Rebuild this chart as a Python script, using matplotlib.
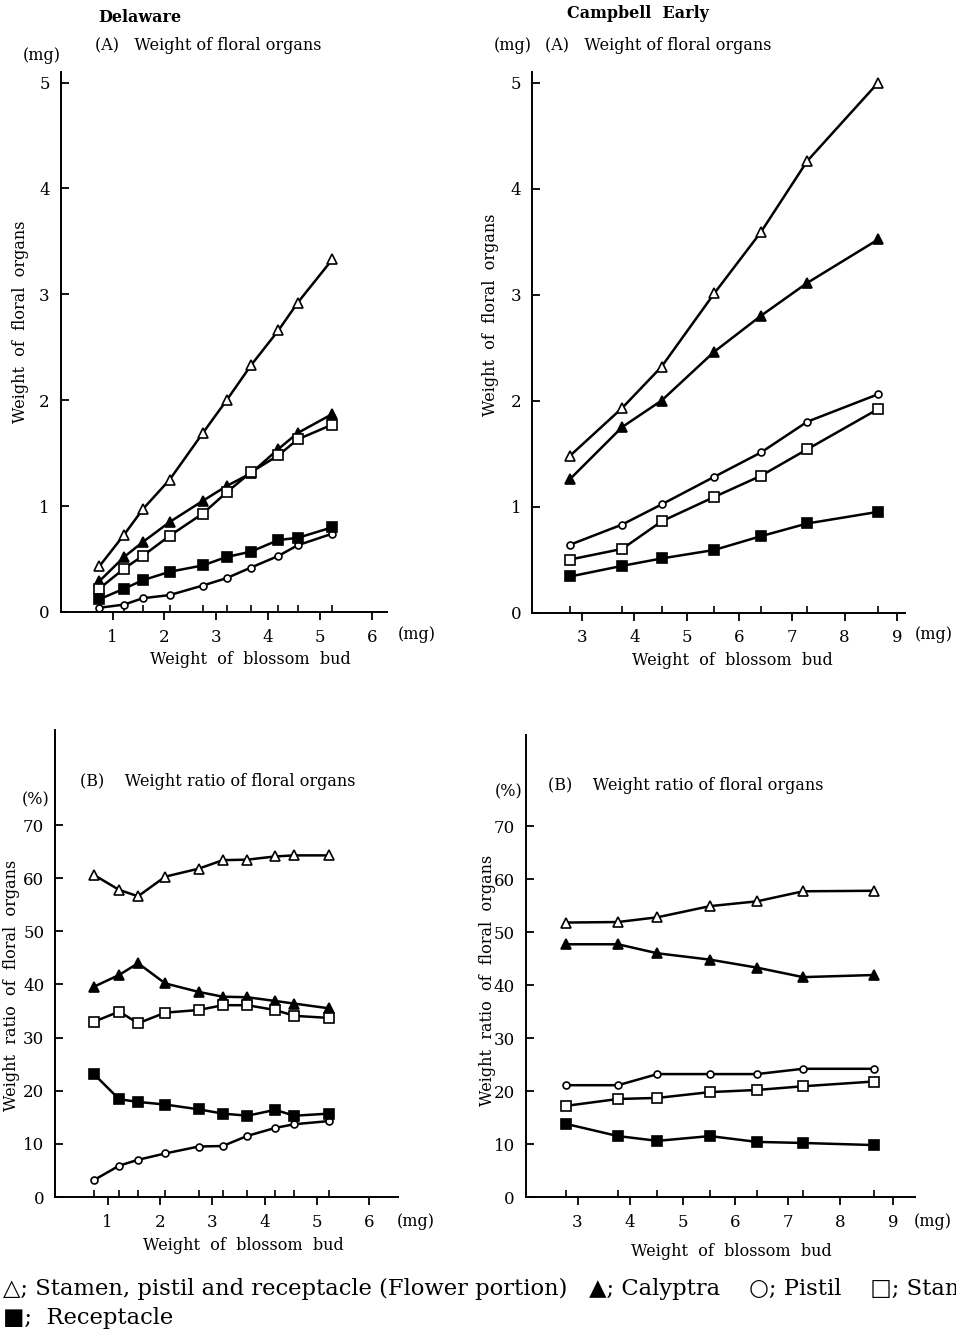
import matplotlib
matplotlib.use("Agg")
import matplotlib.pyplot as plt

# Delaware: weight of blossom bud (mg)
dela_bud = [0.74, 1.22, 1.58, 2.10, 2.74, 3.20, 3.67, 4.20, 4.57, 5.24]
# (A) weight of floral organs, mg
dela_flower_mg = [0.43, 0.73, 0.97, 1.25, 1.69, 2.00, 2.33, 2.66, 2.92, 3.33]
dela_calyptra_mg = [0.29, 0.52, 0.66, 0.85, 1.05, 1.19, 1.31, 1.54, 1.69, 1.87]
dela_stamen_mg = [0.22, 0.41, 0.53, 0.72, 0.93, 1.13, 1.32, 1.48, 1.63, 1.77]
dela_recep_mg = [0.12, 0.22, 0.30, 0.38, 0.44, 0.52, 0.57, 0.68, 0.70, 0.80]
dela_pistil_mg = [0.04, 0.07, 0.13, 0.16, 0.25, 0.32, 0.42, 0.53, 0.63, 0.74]
# (B) weight ratio, %
dela_flower_pct = [60.6, 57.8, 56.6, 60.3, 61.8, 63.4, 63.5, 64.1, 64.3, 64.3]
dela_calyptra_pct = [39.6, 41.8, 44.0, 40.2, 38.6, 37.7, 37.6, 36.9, 36.4, 35.5]
dela_stamen_pct = [33.0, 34.9, 32.7, 34.7, 35.2, 36.1, 36.1, 35.2, 34.1, 33.7]
dela_recep_pct = [23.1, 18.4, 17.9, 17.4, 16.5, 15.7, 15.3, 16.4, 15.3, 15.7]
dela_pistil_pct = [3.2, 5.9, 7.0, 8.2, 9.5, 9.6, 11.5, 13.0, 13.7, 14.3]

# Campbell Early
camp_bud = [2.78, 3.77, 4.52, 5.52, 6.41, 7.29, 8.64]
camp_flower_mg = [1.48, 1.93, 2.32, 3.01, 3.59, 4.26, 5.00]
camp_calyptra_mg = [1.26, 1.75, 2.00, 2.46, 2.80, 3.11, 3.52]
camp_pistil_mg = [0.64, 0.83, 1.02, 1.28, 1.51, 1.80, 2.06]
camp_stamen_mg = [0.50, 0.60, 0.86, 1.09, 1.29, 1.54, 1.92]
camp_recep_mg = [0.34, 0.44, 0.51, 0.59, 0.72, 0.84, 0.95]
camp_flower_pct = [51.8, 51.9, 52.8, 54.9, 55.8, 57.7, 57.8]
camp_calyptra_pct = [47.7, 47.7, 46.0, 44.8, 43.3, 41.5, 41.9]
camp_pistil_pct = [21.1, 21.1, 23.2, 23.2, 23.2, 24.2, 24.2]
camp_stamen_pct = [17.2, 18.5, 18.7, 19.8, 20.2, 20.9, 21.8]
camp_recep_pct = [13.8, 11.5, 10.6, 11.5, 10.4, 10.2, 9.8]

W, H = 956, 1333
plt.rcParams['font.family'] = ['DejaVu Serif', 'DejaVu Sans']

fig = plt.figure(figsize=(W / 100, H / 100), dpi=100)


def px(x, y):
    return x / W, 1 - y / H


def rect(left, right, top, bottom):
    return [left / W, 1 - bottom / H, (right - left) / W, (bottom - top) / H]


# marker styles: flower portion, calyptra, pistil, stamen, receptacle
styles = [
    dict(marker='^', mfc='white', ms=7.5),
    dict(marker='^', mfc='black', ms=7.5),
    dict(marker='o', mfc='white', ms=5),
    dict(marker='s', mfc='white', ms=6.5),
    dict(marker='s', mfc='black', ms=6.5),
]


def panel(r, bud, series, xlim, ylim, xticks, yticks):
    ax = fig.add_axes(r)
    for vals, st in zip(series, styles):
        ax.plot(bud, vals, color='black', lw=1.8, mec='black', mew=1.2, **st)
    ax.set_xlim(*xlim)
    ax.set_ylim(*ylim)
    ax.spines['top'].set_visible(False)
    ax.spines['right'].set_visible(False)
    ax.spines['left'].set_linewidth(1.4)
    ax.spines['bottom'].set_linewidth(1.4)
    ax.set_xticks(xticks)
    ax.set_yticks(yticks)
    ax.set_xticks(bud, minor=True)
    ax.tick_params(axis='x', which='major', direction='out', length=6, width=1.3, labelsize=12, pad=6)
    ax.tick_params(axis='x', which='minor', direction='in', length=5, width=1.2)
    ax.tick_params(axis='y', which='major', direction='in', length=6, width=1.3, labelsize=12, pad=8)
    return ax


panel(rect(60.9, 386.7, 72, 612), dela_bud,
      [dela_flower_mg, dela_calyptra_mg, dela_pistil_mg, dela_stamen_mg, dela_recep_mg],
      (0, 6.29), (0, 5.1), range(1, 7), range(0, 6))
panel(rect(532.3, 905, 72, 612.5), camp_bud,
      [camp_flower_mg, camp_calyptra_mg, camp_pistil_mg, camp_stamen_mg, camp_recep_mg],
      (2.06, 9.15), (0, 5.1), range(3, 10), range(0, 6))
panel(rect(55.4, 398, 730, 1197), dela_bud,
      [dela_flower_pct, dela_calyptra_pct, dela_pistil_pct, dela_stamen_pct, dela_recep_pct],
      (0, 6.55), (0, 87.9), range(1, 7), range(0, 80, 10))
panel(rect(526, 915, 735, 1197), camp_bud,
      [camp_flower_pct, camp_calyptra_pct, camp_pistil_pct, camp_stamen_pct, camp_recep_pct],
      (2.02, 9.42), (0, 87.2), range(3, 10), range(0, 80, 10))

fs = 11.5
# titles and units
fig.text(*px(98, 18), 'Delaware', fontsize=fs, fontweight='bold', va='center')
fig.text(*px(567, 13), 'Campbell  Early', fontsize=fs, fontweight='bold', va='center')
fig.text(*px(95, 46), '(A)   Weight of floral organs', fontsize=fs, va='center')
fig.text(*px(545, 46), '(A)   Weight of floral organs', fontsize=fs, va='center')
fig.text(*px(23, 56), '(mg)', fontsize=fs, va='center')
fig.text(*px(494, 46), '(mg)', fontsize=fs, va='center')
fig.text(*px(80, 782), '(B)    Weight ratio of floral organs', fontsize=fs, va='center')
fig.text(*px(548, 786), '(B)    Weight ratio of floral organs', fontsize=fs, va='center')
fig.text(*px(22, 800), '(%)', fontsize=fs, va='center')
fig.text(*px(495, 792), '(%)', fontsize=fs, va='center')

# axis labels
fig.text(*px(250, 660), 'Weight  of  blossom  bud', fontsize=fs, ha='center', va='center')
fig.text(*px(732, 661), 'Weight  of  blossom  bud', fontsize=fs, ha='center', va='center')
fig.text(*px(243, 1246), 'Weight  of  blossom  bud', fontsize=fs, ha='center', va='center')
fig.text(*px(731, 1251), 'Weight  of  blossom  bud', fontsize=fs, ha='center', va='center')
fig.text(*px(21, 322), 'Weight  of  floral  organs', fontsize=fs, rotation=90, ha='center', va='center')
fig.text(*px(491, 315), 'Weight  of  floral  organs', fontsize=fs, rotation=90, ha='center', va='center')
fig.text(*px(12, 985), 'Weight  ratio  of  floral  organs', fontsize=fs, rotation=90, ha='center', va='center')
fig.text(*px(487, 980), 'Weight  ratio  of  floral  organs', fontsize=fs, rotation=90, ha='center', va='center')
fig.text(*px(398, 634), '(mg)', fontsize=fs, va='center')
fig.text(*px(915, 634), '(mg)', fontsize=fs, va='center')
fig.text(*px(397, 1221), '(mg)', fontsize=fs, va='center')
fig.text(*px(914, 1222), '(mg)', fontsize=fs, va='center')

# legend text along the bottom (runs off the right edge, as in the original)
fig.text(*px(3, 1289),
         '\u25b3; Stamen, pistil and receptacle (Flower portion)   \u25b2; Calyptra    '
         '\u25cb; Pistil    \u25a1; Stamen',
         fontsize=16.3, va='center')
fig.text(*px(3, 1318), '\u25a0;  Receptacle', fontsize=16.3, va='center')

fig.savefig('out.png', dpi=100)
